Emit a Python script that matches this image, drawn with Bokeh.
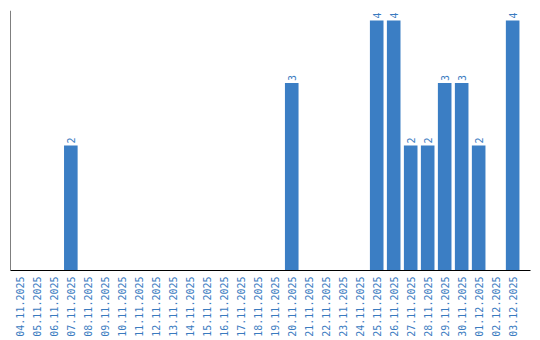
import math
from bokeh.plotting import figure
from bokeh.models import Range1d, FixedTicker, Span
from bokeh.core.properties import value
from bokeh.embed import file_html
from bokeh.resources import INLINE

dates = ["04.11.2025", "05.11.2025", "06.11.2025", "07.11.2025", "08.11.2025",
         "09.11.2025", "10.11.2025", "11.11.2025", "12.11.2025", "13.11.2025",
         "14.11.2025", "15.11.2025", "16.11.2025", "17.11.2025", "18.11.2025",
         "19.11.2025", "20.11.2025", "21.11.2025", "22.11.2025", "23.11.2025",
         "24.11.2025", "25.11.2025", "26.11.2025", "27.11.2025", "28.11.2025",
         "29.11.2025", "30.11.2025", "01.12.2025", "02.12.2025", "03.12.2025"]
counts = [0, 0, 0, 2, 0,
          0, 0, 0, 0, 0,
          0, 0, 0, 0, 0,
          0, 3, 0, 0, 0,
          0, 4, 4, 2, 2,
          3, 3, 2, 0, 4]

BAR = "#3b7ec4"
TXT = "#3a7bbf"
FONT = "DejaVu Sans Mono"

idx = list(range(len(dates)))

p = figure(frame_width=520, frame_height=260, output_backend="svg", toolbar_location=None,
           x_range=Range1d(-0.55, len(dates) + 0.05), y_range=Range1d(0, 4.16),
           min_border_left=10, min_border_right=10, min_border_top=10,
           min_border_bottom=0)
p.outline_line_color = None
p.grid.visible = False
p.yaxis.visible = False

p.vbar(x=idx, top=counts, width=0.8, fill_color=BAR, line_color=None)

lx = [i for i, c in zip(idx, counts) if c > 0]
ly = [c for c in counts if c > 0]
lt = [str(c) for c in ly]
p.text(x=lx, y=ly, text=lt, angle=math.pi / 2, text_align="left",
       text_baseline="middle", y_offset=-2, text_color=TXT,
       text_font=value(FONT), text_font_size="10px")

xa = p.xaxis[0]
xa.ticker = FixedTicker(ticks=idx)
xa.major_label_overrides = {i: d for i, d in zip(idx, dates)}
xa.major_label_orientation = math.pi / 2
xa.major_label_text_font = FONT
xa.major_label_text_font_size = "10px"
xa.major_label_text_color = TXT
xa.major_label_standoff = 6
xa.major_tick_in = 0
xa.major_tick_out = 0
xa.major_tick_line_color = None
xa.minor_tick_line_color = None
xa.axis_line_color = "black"
xa.axis_line_width = 1

p.add_layout(Span(location=-0.55, dimension="height", line_color="black", line_width=1))

open("out.html", "w").write(file_html(p, INLINE))
